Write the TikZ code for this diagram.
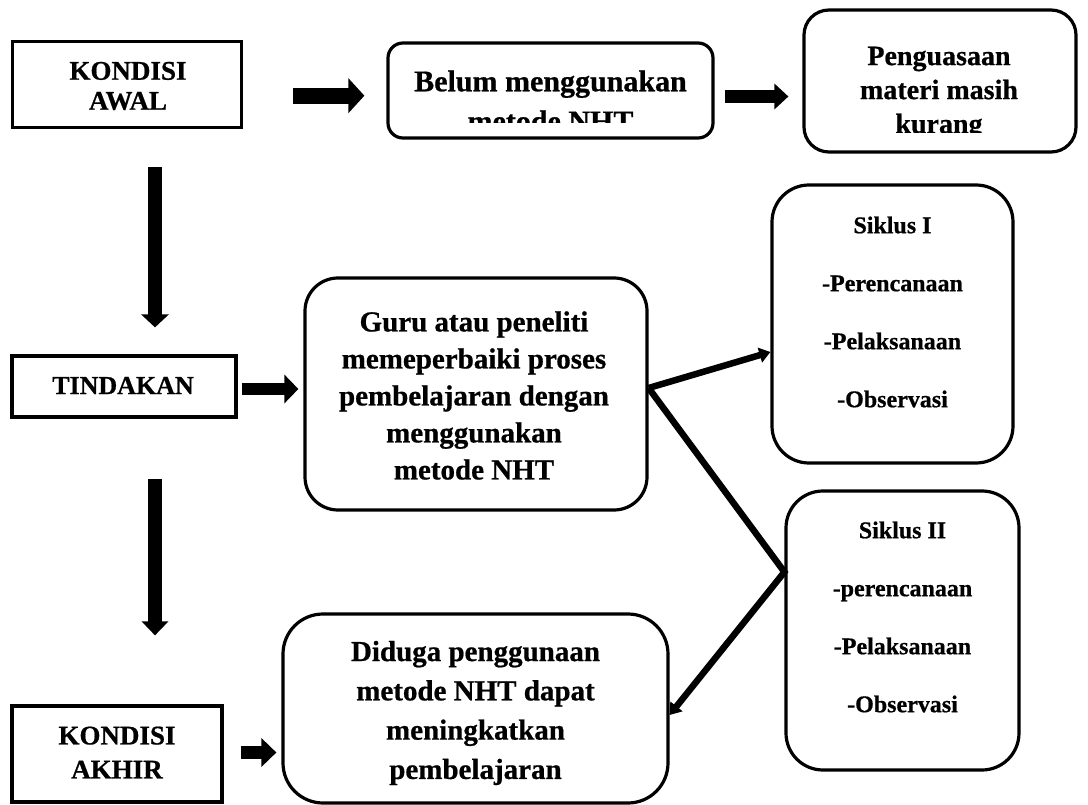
\documentclass[tikz,border=0pt]{standalone}
\usepackage{fontspec}
\setmainfont{Liberation Serif}[BoldFeatures={FakeBold=0.7}]
\usetikzlibrary{arrows.meta}
\newcommand\fntKondA{\bfseries\fontsize{27}{30}\selectfont}
\newcommand\fntKond{\bfseries\fontsize{27}{34}\selectfont}
\newcommand\fntTind{\bfseries\fontsize{26}{32}\selectfont}
\newcommand\fntTop{\bfseries\fontsize{30}{40}\selectfont}
\newcommand\fntPeng{\bfseries\fontsize{28}{34}\selectfont}
\newcommand\fntGuru{\bfseries\fontsize{29}{37}\selectfont}
\newcommand\fntDid{\bfseries\fontsize{29}{39.3}\selectfont}
\newcommand\fntSik{\bfseries\fontsize{24}{58}\selectfont}
\begin{document}
\begin{tikzpicture}[x=1pt,y=-1pt,
  sqbox/.style={draw,line width=3.2pt,inner sep=0pt},
  rbox/.style={draw,line width=3.2pt,inner sep=0pt,rounded corners=#1},
  txt/.style={inner sep=0pt,align=center},
  blk/.style args={#1/#2/#3}{line width=#1,-{Triangle[length=#2,width=#3]}},
  conn/.style={line width=6.5pt,line join=miter,-{Triangle[length=11pt,width=15pt]}}]
\fill[white] (0,0) rectangle (1088,805);
\useasboundingbox (0,0) rectangle (1088,805);

% boxes
\node[sqbox,minimum width=229pt,minimum height=86pt] (kawal) at (127,84.7) {};
\node[txt,font=\fntKondA] (kawalt) at (128,86) {KONDISI\\AWAL};

\node[rbox=15pt,minimum width=325pt,minimum height=95pt] (belum) at (550.5,90.5) {};
\begin{scope}
\clip (388,40) rectangle (713,123);
\node[txt,font=\fntTop] (belumt) at (550.5,101) {Belum menggunakan\\metode NHT};
\end{scope}

\node[rbox=25pt,minimum width=272pt,minimum height=142pt] (peng) at (940,81) {};
\begin{scope}
\clip (804,10) rectangle (1076,133);
\node[txt,font=\fntPeng] (pengt) at (939,93) {Penguasaan\\materi masih\\kurang};
\end{scope}

\node[sqbox,minimum width=224pt,minimum height=61pt] (tind) at (124,386.5) {};
\node[txt,font=\fntTind] (tindt) at (123,385.5) {TINDAKAN};

\node[rbox=33pt,minimum width=342pt,minimum height=232pt] (guru) at (476,394) {};
\node[txt,font=\fntGuru] (gurut) at (474,395.5) {Guru atau peneliti\\memeperbaiki proses\\pembelajaran dengan\\menggunakan\\metode NHT};

\node[rbox=37pt,minimum width=241pt,minimum height=278pt] (s1) at (892.5,324) {};
\node[txt,font=\fntSik] (s1t) at (892.5,312) {Siklus I\\-Perencanaan\\-Pelaksanaan\\-Observasi};

\node[rbox=37pt,minimum width=233pt,minimum height=279pt] (s2) at (902.5,630.5) {};
\node[txt,font=\fntSik] (s2t) at (902.5,617) {Siklus II\\-perencanaan\\-Pelaksanaan\\-Observasi};

\node[sqbox,minimum width=210pt,minimum height=96pt] (akhir) at (117,754) {};
\node[txt,font=\fntKond] (akhirt) at (117,752.5) {KONDISI\\AKHIR};

\node[rbox=40pt,minimum width=385pt,minimum height=189pt] (did) at (475.5,708.5) {};
\node[txt,font=\fntDid] (didt) at (475.5,713) {Diduga penggunaan\\metode NHT dapat\\meningkatkan\\pembelajaran};

% block arrows
\draw[blk=16pt/16pt/34pt,shorten <=50pt,shorten >=22pt]
  ([yshift=-11pt]kawal.east) -- ([yshift=-11pt]kawal.east -| belum.west);
\draw[blk=13pt/14pt/25pt,shorten <=10pt,shorten >=14pt]
  ([yshift=-6pt]belum.east) -- ([yshift=-6pt]belum.east -| peng.west);
\draw[blk=12pt/14pt/28pt,shorten <=4pt,shorten >=5pt]
  ([yshift=-2.5pt]tind.east) -- ([yshift=-2.5pt]tind.east -| guru.west);
\draw[blk=13pt/15pt/28pt,shorten <=17pt,shorten >=5pt]
  ([yshift=1.5pt]akhir.east) -- ([yshift=1.5pt]akhir.east -| did.west);
\draw[blk=14pt/13pt/27pt,shorten <=38pt,shorten >=27pt]
  ([xshift=28pt]kawal.south) -- ([xshift=28pt]kawal.south |- tind.north);
\draw[blk=14pt/14pt/26pt,shorten <=60pt,shorten >=69pt]
  ([xshift=31pt]tind.south) -- ([xshift=31pt]tind.south |- akhir.north);

% connectors
\coordinate (vtx) at ([yshift=58.5pt]s2.west);
\draw[conn] ([yshift=6pt]guru.east) -- ([yshift=-28pt]s1.west);
\draw[conn] ([yshift=6pt]guru.east) -- (vtx) -- ([yshift=-6.5pt]did.east);
\end{tikzpicture}
\end{document}
